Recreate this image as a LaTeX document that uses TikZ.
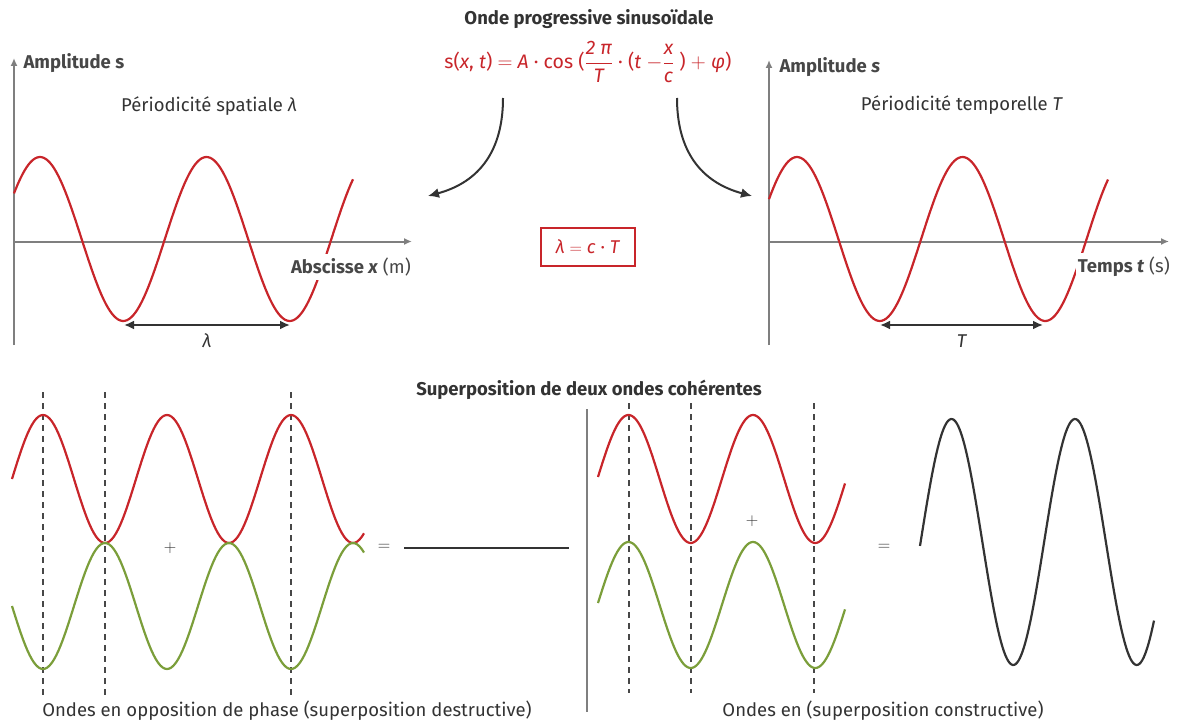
\documentclass[tikz,border=0pt]{standalone}
\usepackage{amsmath}
\usepackage{fontspec}
\setmainfont{Fira Sans}
\usetikzlibrary{arrows.meta}
\definecolor{wred}{HTML}{C8252A}
\definecolor{wgreen}{HTML}{7B9E3A}
\definecolor{txt}{HTML}{333333}
\definecolor{axgray}{HTML}{7F7F7F}
\newcommand{\fr}[2]{$\genfrac{}{}{0.7pt}{0}{\mbox{\itshape #1}}{\mbox{\itshape #2}}$}
\begin{document}
\begin{tikzpicture}[x=1pt,y=-1pt,
  every node/.style={text=txt,font=\fontsize{18.5}{22}\selectfont},
  axis/.style={draw=axgray,line width=2pt,-{Latex[length=8pt,width=7pt]}},
  redwave/.style={draw=wred,line width=2.2pt},
  greenwave/.style={draw=wgreen,line width=2.2pt},
  blackwave/.style={draw=txt,line width=2.2pt},
  dim/.style={draw=txt,line width=2.2pt,{Latex[length=10pt,width=9pt]}-{Latex[length=10pt,width=9pt]}},
  curv/.style={draw=txt,line width=2pt,-{Latex[length=11pt,width=10pt]}},
  vdash/.style={draw=txt!90,line width=1.5pt,dash pattern=on 6pt off 5pt},
  ttl/.style={font=\fontsize{18.5}{22}\selectfont\bfseries},
  axlabel/.style={font=\fontsize{18.5}{22}\selectfont,text=txt!90},
]
\useasboundingbox (0,0) rectangle (1177,722);

% ---------- titles ----------
\node[ttl] (t1) at (589,19) {Onde progressive sinusoïdale};
\node[text=wred,font=\fontsize{19.5}{23}\selectfont] (formula) at (588,62) {s(\textit{x}, \textit{t}) $=$ \textit{A} · cos (\fr{2 π}{T} · (\textit{t} $-$\fr{x}{c} ) $+$ \textit{φ})};

% ---------- top-left plot ----------
\coordinate (yl0) at (14,345);
\coordinate (yl1) at (14,58);
\coordinate (xl0) at (14,241.5);
\coordinate (xl1) at (412,241.5);
\draw[axis] (yl0) -- (yl1);
\draw[axis] (xl0) -- (xl1);
\draw[redwave] plot[domain=14:353,samples=160] (\x,{239-82*cos((\x-40)/166.5*360)});
\node[axlabel,anchor=west] (amp1) at (20,63) {\bfseries Amplitude s};
\node (per1) at (209,106) {Périodicité spatiale \textit{λ}};
\node[axlabel,fill=white,inner xsep=2pt,inner ysep=4pt,anchor=east] (abs) at (413,267) {\textbf{Abscisse \textit{x}} (m)};
\coordinate (l1) at (124,325);
\coordinate (l2) at (290,325);
\draw[dim] (l1) -- (l2);
\node (lam) at (207,341) {\textit{λ}};

% ---------- top-right plot ----------
\coordinate (yr0) at (769,345);
\coordinate (yr1) at (769,60);
\coordinate (xr0) at (769,241.5);
\coordinate (xr1) at (1169,241.5);
\draw[axis] (yr0) -- (yr1);
\draw[axis] (xr0) -- (xr1);
\draw[redwave] plot[domain=769:1108,samples=160] (\x,{239-82*cos((\x-797)/165.5*360)});
\node[axlabel,anchor=west] (amp2) at (776,67) {\bfseries Amplitude \textit{s}};
\node (per2) at (962,105) {Périodicité temporelle \textit{T}};
\node[axlabel,fill=white,inner xsep=2pt,inner ysep=4pt,anchor=east] (tps) at (1172,267) {\textbf{Temps \textit{t}} (s)};
\coordinate (T1) at (880,325);
\coordinate (T2) at (1043,325);
\draw[dim] (T1) -- (T2);
\node (Tl) at (962,341) {\textit{T}};

% ---------- curved arrows ----------
\coordinate (ca1) at (503,98);
\coordinate (ca2) at (428,196);
\coordinate (cb1) at (677,98);
\coordinate (cb2) at (752,196);
\draw[curv] (ca1) .. controls (503,150) and (480,182) .. (ca2);
\draw[curv] (cb1) .. controls (677,150) and (700,182) .. (cb2);

% ---------- relation box ----------
\node[draw=wred,line width=1.6pt,text=wred,minimum width=94pt,minimum height=38pt] (rel) at (588,247) {\textit{λ} $=$ \textit{c} · \textit{T}};

% ---------- bottom ----------
\node[ttl] (t2) at (589,390) {Superposition de deux ondes cohérentes};
\coordinate (s0) at (587,409);
\coordinate (s1) at (587,712);
\draw[draw=axgray,line width=2pt] (s0) -- (s1);

% left: destructive
\foreach \xx [count=\i] in {43,105,291}{
  \coordinate (dl\i a) at (\xx,392);
  \coordinate (dl\i b) at (\xx,695);
  \draw[vdash] (dl\i a) -- (dl\i b);
}
\draw[redwave] plot[domain=12:364,samples=160] (\x,{479-64*cos((\x-43)/124*360)});
\draw[greenwave] plot[domain=12:364,samples=160] (\x,{606+63*cos((\x-43)/124*360)});
\node (plus1) at (170,548) {$+$};
\node (eq1) at (384,547) {$=$};
\coordinate (fl0) at (404,548);
\coordinate (fl1) at (569,548);
\draw[draw=txt,line width=2.4pt] (fl0) -- (fl1);
\node (cap1) at (287,711) {Ondes en opposition de phase (superposition destructive)};

% right: constructive
\foreach \xx [count=\i] in {629,691,814}{
  \coordinate (dr\i a) at (\xx,403);
  \coordinate (dr\i b) at (\xx,693);
  \draw[vdash] (dr\i a) -- (dr\i b);
}
\draw[redwave] plot[domain=598:845,samples=160] (\x,{479-64*cos((\x-628.5)/124.5*360)});
\draw[greenwave] plot[domain=598:845,samples=160] (\x,{605-63*cos((\x-628.5)/124.5*360)});
\node (plus2) at (752,521) {$+$};
\node (eq2) at (884,547) {$=$};
\draw[blackwave] plot[domain=920:1154,samples=160] (\x,{542-123*cos((\x-951.5)/123.5*360)});
\node (cap2) at (883,711) {Ondes en (superposition constructive)};
\end{tikzpicture}
\end{document}
